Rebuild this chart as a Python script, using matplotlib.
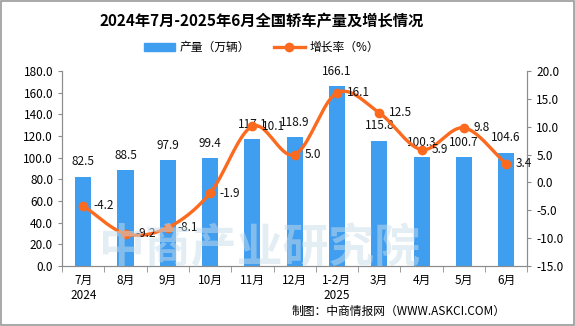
import matplotlib
matplotlib.use("Agg")
import matplotlib.pyplot as plt
import numpy as np
from matplotlib.patches import Rectangle
from matplotlib.lines import Line2D

plt.rcParams['font.family'] = ['Noto Sans CJK SC', 'DejaVu Sans']

months = ['7月\n2024', '8月', '9月', '10月', '11月', '12月', '1-2月\n2025', '3月', '4月', '5月', '6月']
output = [82.5, 88.5, 97.9, 99.4, 117.1, 118.9, 166.1, 115.8, 100.3, 100.7, 104.6]
growth = [-4.2, -9.2, -8.1, -1.9, 10.1, 5.0, 16.1, 12.5, 5.9, 9.8, 3.4]

bar_color = '#3f9ef0'
line_color = '#fb6a1e'
axis_color = '#8c8c8c'


def smooth(xs, ys, n=20):
    # catmull-rom curve through the points, only for drawing the line
    xs = np.asarray(xs, float)
    ys = np.asarray(ys, float)
    px = np.concatenate([[2 * xs[0] - xs[1]], xs, [2 * xs[-1] - xs[-2]]])
    py = np.concatenate([[2 * ys[0] - ys[1]], ys, [2 * ys[-1] - ys[-2]]])
    ox, oy = [], []
    t = np.linspace(0, 1, n, endpoint=False)
    for i in range(1, len(px) - 2):
        for arr, out in ((px, ox), (py, oy)):
            p0, p1, p2, p3 = arr[i - 1], arr[i], arr[i + 1], arr[i + 2]
            out.extend(0.5 * ((2 * p1) + (-p0 + p2) * t
                              + (2 * p0 - 5 * p1 + 4 * p2 - p3) * t ** 2
                              + (-p0 + 3 * p1 - 3 * p2 + p3) * t ** 3))
    ox.append(xs[-1])
    oy.append(ys[-1])
    return ox, oy


fig = plt.figure(figsize=(5.75, 3.26), dpi=100)
ax = fig.add_axes([0.108, 0.184, 0.809, 0.598])
ax2 = ax.twinx()

x = np.arange(len(months))

# watermark
fig.text(0.452, 0.235, '中商产业研究院', fontsize=33, color='#c9dcea', alpha=0.5,
         ha='center', va='center', fontweight='bold', zorder=0)

ax.bar(x, output, width=0.38, color=bar_color, zorder=2)
for xi, v in zip(x, output):
    ax.annotate(f'{v:.1f}', (xi, v), xytext=(0, 6), textcoords='offset points',
                ha='center', va='bottom', fontsize=8.5, color='#111111')

sx, sy = smooth(x, growth)
ax2.plot(sx, sy, color=line_color, lw=2.4, zorder=3)
ax2.plot(x, growth, 'o', color=line_color, ms=6, zorder=4)
for xi, v in zip(x, growth):
    ax2.annotate(f'{v:.1f}', (xi, v), xytext=(7, 0), textcoords='offset points',
                 ha='left', va='center', fontsize=8.5, color='#111111')

ax.set_xlim(-0.5, len(months) - 0.5)
ax.set_ylim(0, 180)
ax.set_yticks(np.arange(0, 181, 20))
ax.set_yticklabels([f'{v:.1f}' for v in np.arange(0, 181, 20)])
ax2.set_ylim(-15, 20)
ax2.set_yticks(np.arange(-15, 21, 5))
ax2.set_yticklabels([f'{v:.1f}' for v in np.arange(-15, 21, 5)])

ax.set_xticks(x)
ax.set_xticklabels(months)
ax.set_xticks(np.arange(-0.5, len(months), 1), minor=True)
ax.tick_params(axis='x', which='major', length=0, pad=6, labelsize=8.5)
ax.tick_params(axis='x', which='minor', length=4, color=axis_color)
ax.tick_params(axis='y', length=3, color=axis_color, labelsize=8.5)
ax2.tick_params(axis='y', length=3, color=axis_color, labelsize=8.5)

for a in (ax, ax2):
    a.spines['top'].set_visible(False)
    for s in ('left', 'right', 'bottom'):
        a.spines[s].set_color(axis_color)
    a.set_facecolor('none')

fig.text(0.455, 0.935, '2024年7月-2025年6月全国轿车产量及增长情况', ha='center', va='center',
         fontsize=11, fontweight='bold')

# legend
h1 = Rectangle((0, 0), 1, 1, color=bar_color)
h2 = Line2D([], [], color=line_color, lw=2.4, marker='o', ms=6)
fig.legend([h1, h2], ['产量（万辆）', '增长率（%）'], loc='center', bbox_to_anchor=(0.455, 0.855),
           ncol=2, frameon=False, fontsize=8.5, handlelength=2.6, columnspacing=2.0,
           handletextpad=0.4)

fig.text(0.88, 0.045, '制图：中商情报网（WWW.ASKCI.COM）', ha='right', va='center', fontsize=8.5)

fig.patches.append(Rectangle((0.001, 0.002), 0.997, 0.995, transform=fig.transFigure,
                             fill=False, edgecolor='#9a9a9a', lw=1.2))

fig.savefig('out.png', dpi=100)
